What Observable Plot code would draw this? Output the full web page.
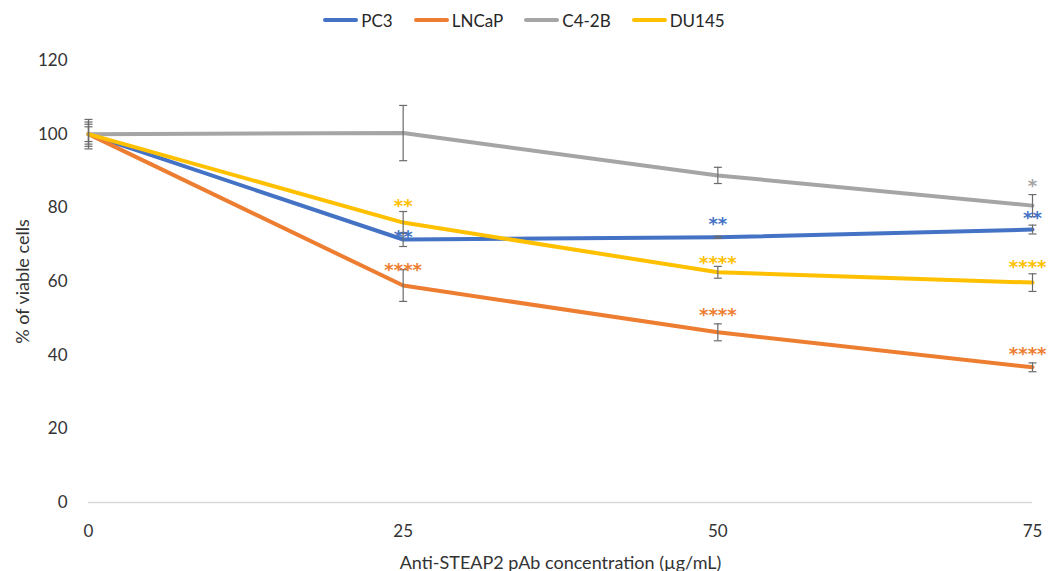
<!DOCTYPE html>
<html><head><meta charset="utf-8">
<script src="https://cdn.jsdelivr.net/npm/d3@7"></script>
<script src="https://cdn.jsdelivr.net/npm/@observablehq/plot@0.6"></script>
<style>
body{margin:0;background:#fff;font-family:Lato,"Noto Sans",sans-serif;}
#legend{height:40px;display:flex;justify-content:center;align-items:center;gap:21px;font-size:17px;color:#262626;}
.item{display:flex;align-items:center;}
.sw{width:35px;height:4px;border-radius:2px;margin-right:3px;}
</style></head><body>
<div id="legend"></div><div id="chart"></div>
<script>
// ---- data ----
const concentrations = [0, 25, 50, 75];
const xTicks = [0, 25, 50, 75];
const yTicks = [0, 20, 40, 60, 80, 100, 120];
const seriesNames = ["PC3", "LNCaP", "C4-2B", "DU145"];
const seriesColors = ["#4472C4", "#ED7D31", "#A5A5A5", "#FFC000"];
const pc3Mean   = [100, 71.4, 72.0, 74.1];
const pc3Err    = [2.7, 1.9, 0.3, 1.2];
const lncapMean = [100, 58.9, 46.2, 36.7];
const lncapErr  = [3.3, 4.3, 2.3, 1.2];
const c42bMean  = [100, 100.3, 88.8, 80.6];
const c42bErr   = [4.0, 7.5, 2.2, 3.0];
const du145Mean = [100, 76.0, 62.5, 59.7];
const du145Err  = [2.0, 3.0, 1.6, 2.4];
// significance annotations
const starConc   = [25, 25, 25, 50, 50, 50, 75, 75, 75, 75];
const starSeries = ["DU145", "PC3", "LNCaP", "PC3", "DU145", "LNCaP", "C4-2B", "PC3", "DU145", "LNCaP"];
const starText   = ["**", "**", "****", "**", "****", "****", "*", "**", "****", "****"];
const starY      = [81.7, 73.3, 64.3, 76.8, 66.2, 52.1, 87.2, 78.5, 65.2, 41.5];

// ---- build table ----
const means = [pc3Mean, lncapMean, c42bMean, du145Mean];
const errs = [pc3Err, lncapErr, c42bErr, du145Err];
const rows = [];
seriesNames.forEach((s, i) => concentrations.forEach((c, j) =>
  rows.push({series: s, conc: c, value: means[i][j], err: errs[i][j]})));
const stars = starConc.map((c, i) => ({conc: c, series: starSeries[i], text: starText[i], y: starY[i]}));
const edgeStar = d => d.conc === 75 && d.text.length > 2;

// ---- legend ----
const leg = document.getElementById("legend");
seriesNames.forEach((s, i) => {
  const it = document.createElement("div"); it.className = "item";
  const sw = document.createElement("div"); sw.className = "sw"; sw.style.background = seriesColors[i];
  const lb = document.createElement("span"); lb.textContent = s;
  it.appendChild(sw); it.appendChild(lb); leg.appendChild(it);
});

const capSymbol = {draw(ctx, size) { const w = Math.sqrt(size / Math.PI); ctx.moveTo(-w, 0); ctx.lineTo(w, 0); }};
const starFill = d => seriesColors[seriesNames.indexOf(d.series)];
const starStyle = {fontSize: 18, fontFamily: "DejaVu Sans", fontWeight: "bold", dy: 5};

const chart = Plot.plot({
  width: 1048, height: 531,
  marginTop: 20, marginBottom: 69, marginLeft: 88, marginRight: 16,
  style: {fontFamily: "Lato, 'Noto Sans', sans-serif", color: "#333", background: "#fff"},
  x: {domain: [0, 75]},
  y: {domain: [0, 120]},
  color: {domain: seriesNames, range: seriesColors},
  marks: [
    Plot.ruleY([0], {stroke: "#d9d9d9", strokeWidth: 1.3}),
    Plot.axisY({ticks: yTicks, tickSize: 0, tickPadding: 21, fontSize: 17, label: null}),
    Plot.axisY({ticks: [], tickSize: 0, fontSize: 18, label: "% of viable cells",
      labelAnchor: "center", labelArrow: "none", labelOffset: 72}),
    Plot.axisX({ticks: xTicks, tickSize: 0, tickPadding: 22, fontSize: 17, label: null}),
    Plot.axisX({ticks: [], tickSize: 0, fontSize: 18, label: "Anti-STEAP2 pAb concentration (µg/mL)",
      labelAnchor: "center", labelArrow: "none", labelOffset: 66}),
    Plot.line(rows, {x: "conc", y: "value", z: "series", stroke: "series", strokeWidth: 4, strokeLinejoin: "round"}),
    Plot.ruleX(rows, {x: "conc", y1: d => d.value - d.err, y2: d => d.value + d.err, stroke: "#6b6b6b", strokeWidth: 1.2}),
    Plot.dot(rows, {x: "conc", y: d => d.value + d.err, symbol: capSymbol, r: 4, stroke: "#6b6b6b", strokeWidth: 1.2, fill: "none"}),
    Plot.dot(rows, {x: "conc", y: d => d.value - d.err, symbol: capSymbol, r: 4, stroke: "#6b6b6b", strokeWidth: 1.2, fill: "none"}),
    Plot.text(stars.filter(d => !edgeStar(d)), {x: "conc", y: "y", text: "text", fill: starFill, ...starStyle,
      style: "letter-spacing:1.5px"}),
    Plot.text(stars.filter(edgeStar), {x: "conc", y: "y", text: "text", fill: starFill, ...starStyle,
      textAnchor: "end", dx: 14, style: "letter-spacing:1px"})
  ]
});
document.getElementById("chart").appendChild(chart);
</script>
</body></html>
